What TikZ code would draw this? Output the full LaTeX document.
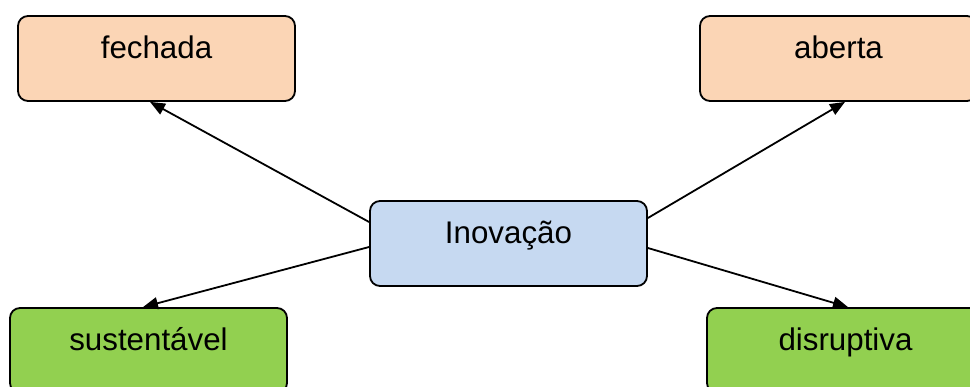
\documentclass[tikz,border=0pt]{standalone}
\usepackage{fontspec}
\setmainfont{Liberation Sans}
\usetikzlibrary{arrows.meta,calc}
\definecolor{peach}{HTML}{FBD5B5}
\definecolor{leaf}{HTML}{92D050}
\definecolor{sky}{HTML}{C6D9F1}
\tikzset{
  box/.style={draw=black, line width=1.8pt, rounded corners=10pt,
    minimum width=277pt, minimum height=85pt, inner sep=0pt,
    text height=20pt, text depth=20pt,
    font=\fontsize{31.3}{37}\selectfont},
  conn/.style={line width=1.8pt, -{Triangle[length=15pt,width=12pt]}}
}
\begin{document}
\begin{tikzpicture}[x=1pt,y=-1pt]
\useasboundingbox (0,0) rectangle (970,387);
\clip (0,0) rectangle (970,387);
\node[box, fill=peach] (fech) at (156.5,58.5) {fechada};
\node[box, fill=peach] (aber) at (838.5,58.5) {aberta};
\node[box, fill=leaf] (sust) at (148.5,350.5) {sustentável};
\node[box, fill=leaf] (disr) at (845.5,350.5) {disruptiva};
\node[box, fill=sky] (inov) at (508.5,243.5) {Inovação};
\draw[conn] ($(inov.west)+(0,-21.5)$) -- ($(fech.south)+(-6.5,0)$);
\draw[conn] ($(inov.east)+(0,-25.5)$) -- ($(aber.south)+(6.5,0)$);
\draw[conn] ($(inov.west)+(0,3.5)$) -- ($(sust.north)+(-5.5,0)$);
\draw[conn] ($(inov.east)+(0,4.5)$) -- ($(disr.north)+(2.5,0)$);
\end{tikzpicture}
\end{document}
